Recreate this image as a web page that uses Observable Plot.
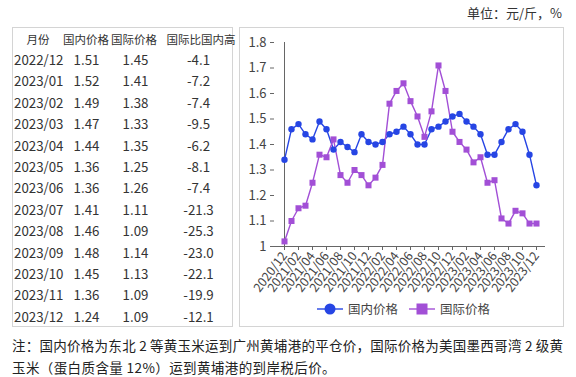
<!DOCTYPE html>
<html><head><meta charset="utf-8">
<script src="https://cdn.jsdelivr.net/npm/d3@7"></script>
<script src="https://cdn.jsdelivr.net/npm/@observablehq/plot@0.6"></script>
<style>
body{margin:0;width:576px;height:377px;position:relative;background:#fff;font-family:"Noto Sans CJK SC","Noto Sans",sans-serif;color:#333;overflow:hidden}
.abs{position:absolute;white-space:nowrap}
.cell{position:absolute;height:20px;line-height:20px;white-space:nowrap;font-size:13.3px;color:#333}
.hd{font-size:11.5px}
</style></head><body>
<div class="abs" style="left:467px;top:4px;font-size:13px;line-height:18px;color:#333">单位：元/斤，%</div>
<div id="tbl" class="abs" style="left:12px;top:27px;width:221px;height:300px;border:1px solid #d4d4d4;box-sizing:border-box"></div>
<div class="abs" style="left:239px;top:27px;width:325px;height:300px;border:1px solid #d4d4d4;box-sizing:border-box"></div>
<div id="chart" class="abs" style="left:239px;top:28px"></div>
<div id="legend" class="abs" style="left:316px;top:300px;height:18px;font-size:12.5px;line-height:18px;color:#444"></div>
<div class="abs" style="left:12px;top:334px;width:551px;font-size:13.5px;line-height:22px;color:#222;text-align:justify;text-align-last:justify;white-space:normal">注：国内价格为东北 2 等黄玉米运到广州黄埔港的平仓价，国际价格为美国墨西哥湾 2 级黄</div>
<div class="abs" style="left:12px;top:356px;font-size:13.5px;line-height:22px;color:#222;letter-spacing:0.4px">玉米（蛋白质含量 12%）运到黄埔港的到岸税后价。</div>
<script>
const months = ["2020/12","2021/01","2021/02","2021/03","2021/04","2021/05","2021/06","2021/07","2021/08","2021/09","2021/10","2021/11","2021/12","2022/01","2022/02","2022/03","2022/04","2022/05","2022/06","2022/07","2022/08","2022/09","2022/10","2022/11","2022/12","2023/01","2023/02","2023/03","2023/04","2023/05","2023/06","2023/07","2023/08","2023/09","2023/10","2023/11","2023/12"];
const domestic = [1.34,1.46,1.48,1.44,1.42,1.49,1.46,1.38,1.41,1.39,1.37,1.44,1.41,1.40,1.41,1.44,1.45,1.47,1.44,1.40,1.40,1.46,1.47,1.49,1.51,1.52,1.49,1.47,1.44,1.36,1.36,1.41,1.46,1.48,1.45,1.36,1.24];
const international = [1.02,1.10,1.15,1.16,1.25,1.36,1.35,1.42,1.28,1.25,1.30,1.28,1.24,1.27,1.32,1.56,1.61,1.64,1.57,1.51,1.43,1.53,1.71,1.61,1.45,1.41,1.38,1.33,1.35,1.25,1.26,1.11,1.09,1.14,1.13,1.09,1.09];
const tableHeaders = ["月份","国内价格","国际价格","国际比国内高"];
const tableMonths = ["2022/12","2023/01","2023/02","2023/03","2023/04","2023/05","2023/06","2023/07","2023/08","2023/09","2023/10","2023/11","2023/12"];
const tableDomestic = ["1.51","1.52","1.49","1.47","1.44","1.36","1.36","1.41","1.46","1.48","1.45","1.36","1.24"];
const tableInternational = ["1.45","1.41","1.38","1.33","1.35","1.25","1.26","1.11","1.09","1.14","1.13","1.09","1.09"];
const tableDiff = ["-4.1","-7.2","-7.4","-9.5","-6.2","-8.1","-7.4","-21.3","-25.3","-23.0","-22.1","-19.9","-12.1"];
const yTicks = [1,1.1,1.2,1.3,1.4,1.5,1.6,1.7,1.8];
const seriesNames = ["国内价格","国际价格"];

const blue = "#2645e4", purple = "#a24fd6";

// table
const tbl = document.getElementById("tbl");
function cell(text, left, centerY, align, cls) {
  const d = document.createElement("div");
  d.className = "cell" + (cls ? " " + cls : "");
  d.textContent = text;
  d.style.top = (centerY - 10) + "px";
  if (align === "left") d.style.left = left + "px";
  else { d.style.left = (left - 40) + "px"; d.style.width = "80px"; d.style.textAlign = "center"; }
  tbl.appendChild(d);
}
const hdCenters = [25, 73, 121, 188];
tableHeaders.forEach((h, i) => cell(h, hdCenters[i], 11, "center", "hd"));
tableMonths.forEach((m, i) => {
  const cy = 32 + i * 21.4;
  cell(m, 1, cy, "left");
  cell(tableDomestic[i], 73.5, cy, "center");
  cell(tableInternational[i], 122.5, cy, "center");
  cell(tableDiff[i], 185.5, cy, "center");
});

// chart
const data = months.map((m, i) => ({m, dom: domestic[i], intl: international[i]}));
const tickMonths = months.filter((_, i) => i % 2 === 0);
const chart = Plot.plot({
  width: 324, height: 272,
  marginLeft: 35, marginRight: 18, marginTop: 14, marginBottom: 54,
  x: {type: "point", domain: months, padding: 0},
  y: {domain: [1, 1.8]},
  style: {fontFamily: "'Noto Sans CJK SC','Noto Sans',sans-serif", color: "#444", background: "transparent"},
  marks: [
    Plot.axisY({ticks: yTicks, tickSize: 4, tickPadding: 4, tickFormat: d => d === 1 ? "1" : d.toFixed(1), fontSize: 13, label: null, stroke: "#666"}),
    Plot.axisX({ticks: tickMonths, tickRotate: -53, tickSize: 4, tickPadding: 3, fontSize: 12.5, label: null, stroke: "#666"}),
    Plot.ruleX([months[0]], {stroke: "#666"}),
    Plot.ruleY([1], {stroke: "#666"}),
    Plot.line(data, {x: "m", y: "dom", stroke: blue, strokeWidth: 1.4}),
    Plot.line(data, {x: "m", y: "intl", stroke: purple, strokeWidth: 1.4}),
    Plot.dot(data, {x: "m", y: "dom", fill: blue, r: 3.2, symbol: "circle"}),
    Plot.dot(data, {x: "m", y: "intl", fill: purple, r: 3.4, symbol: "square"})
  ]
});
document.getElementById("chart").appendChild(chart);

// legend
const lg = document.getElementById("legend");
lg.innerHTML =
  `<svg width="28" height="18" style="vertical-align:top"><line x1="1" x2="27" y1="9" y2="9" stroke="${blue}" stroke-width="1.4"/><circle cx="14" cy="9" r="5.5" fill="${blue}"/></svg>` +
  `<span style="margin-left:4px;margin-right:10px">${seriesNames[0]}</span>` +
  `<svg width="28" height="18" style="vertical-align:top"><line x1="1" x2="27" y1="9" y2="9" stroke="${purple}" stroke-width="1.4"/><rect x="8.5" y="3.5" width="11" height="11" fill="${purple}"/></svg>` +
  `<span style="margin-left:4px">${seriesNames[1]}</span>`;
</script>
</body></html>
